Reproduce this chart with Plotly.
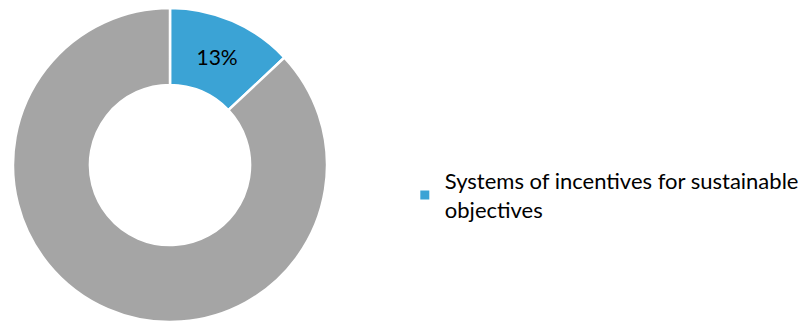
import plotly.graph_objects as go

labels = ["Systems of incentives for sustainable objectives", "Other"]
values = [13, 87]
slice_text = ["13%", ""]
colors = ["#3BA3D5", "#A5A5A5"]

W, H = 808, 323
cx0, cx1 = 13, 327
cy_top, cy_bot = 8, 322

fig = go.Figure()
fig.add_trace(go.Pie(
    labels=labels, values=values, text=slice_text,
    textinfo="text", textposition="inside", insidetextorientation="horizontal",
    textfont=dict(family="Lato", size=21, color="#000000"),
    hole=0.51, sort=False, direction="clockwise", rotation=0,
    marker=dict(colors=colors, line=dict(color="#FFFFFF", width=2.5)),
    domain=dict(x=[cx0 / W, cx1 / W], y=[(H - cy_bot) / H, (H - cy_top) / H]),
    showlegend=False, hoverinfo="label+percent",
))
fig.add_trace(go.Scatter(
    x=[None], y=[None], mode="markers",
    marker=dict(symbol="square", size=9, color=colors[0]),
    name="Systems of incentives for sustainable<br>objectives",
    showlegend=True,
))
fig.update_layout(
    width=W, height=H, margin=dict(l=0, r=0, t=0, b=0),
    paper_bgcolor="white", plot_bgcolor="white",
    xaxis=dict(visible=False), yaxis=dict(visible=False),
    legend=dict(x=0.501, y=0.395, xanchor="left", yanchor="middle",
                font=dict(family="Lato", size=22, color="#000000"),
                itemwidth=30, tracegroupgap=0),
    font=dict(family="Lato"),
)
fig.write_html("out.html")
